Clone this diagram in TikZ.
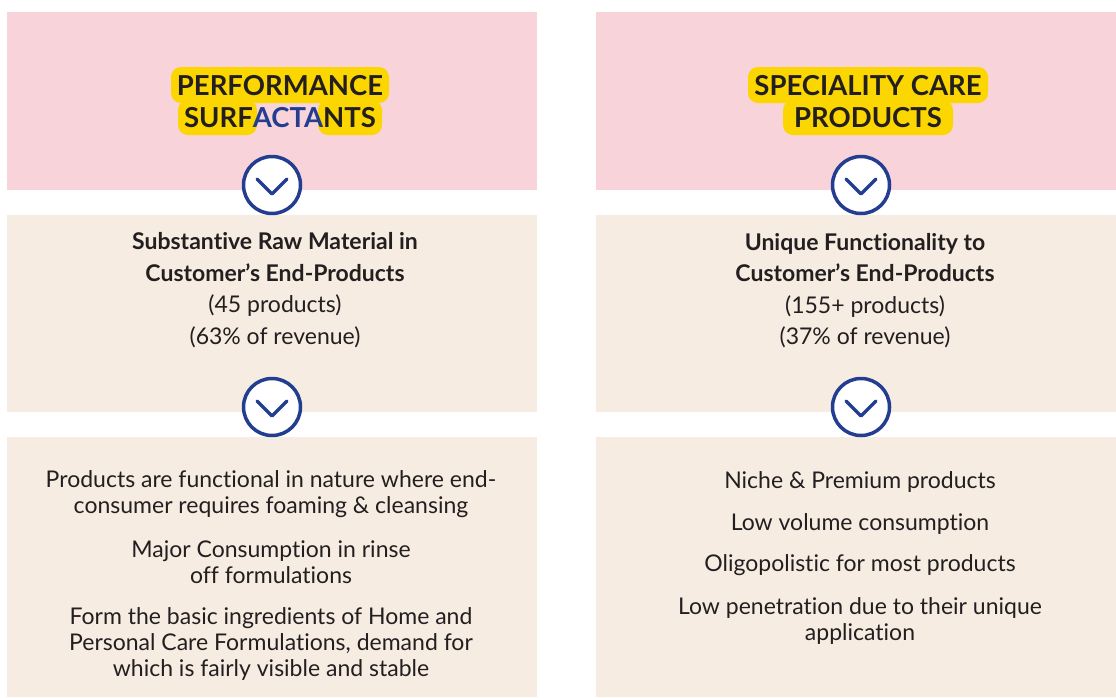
\documentclass[tikz,border=0pt]{standalone}
\usepackage{fontspec}
\setmainfont{Lato}[Ligatures=NoCommon]
\usepackage{xcolor}
\usetikzlibrary{positioning}

\definecolor{panelpink}{HTML}{F8D3DA}
\definecolor{panelbeige}{HTML}{F7ECE2}
\definecolor{hlyellow}{HTML}{FCD600}
\definecolor{navy}{HTML}{233E91}
\definecolor{ink}{HTML}{231F20}

\tikzset{
    panel/.style={inner sep=0pt, outer sep=0pt},
    title/.style={font=\fontsize{27.5}{32}\selectfont\bfseries, text=ink, inner sep=0pt, anchor=base},
    hilite/.style={fill=hlyellow, rounded corners=10pt},
    info/.style={font=\fontsize{23}{31.5}\selectfont, text=ink, align=center, inner sep=0pt},
    point/.style={font=\fontsize{23}{26}\selectfont, text=ink, align=center, inner sep=0pt},
    knob/.style={circle, draw=navy, line width=3.5pt, fill=white, minimum size=57pt, inner sep=0pt},
    chev/.style={draw=navy, line width=3.5pt, line cap=round, line join=round}
}

\begin{document}
\begin{tikzpicture}[x=1pt, y=-1pt]
    \useasboundingbox (0,0) rectangle (1116,697);

    % Panels
    \node[panel, fill=panelpink, minimum width=530, minimum height=178] (ltop) at (272,101) {};
    \node[panel, fill=panelpink, minimum width=520, minimum height=178] (rtop) at (856,101) {};
    \node[panel, fill=panelbeige, minimum width=530, minimum height=197] (lmid) at (272,313.5) {};
    \node[panel, fill=panelbeige, minimum width=520, minimum height=197] (rmid) at (856,313.5) {};
    \node[panel, fill=panelbeige, minimum width=530, minimum height=260] (lbot) at (272,567) {};
    \node[panel, fill=panelbeige, minimum width=520, minimum height=260] (rbot) at (856,567) {};

    % Highlights behind the titles
    \fill[hilite] (171,67) rectangle (389,103);
    \fill[hilite] (178,100) rectangle (257,135);
    \fill[hilite] (318,100) rectangle (382,135);
    \fill[hilite] (748,67) rectangle (988,103);
    \fill[hilite] (783,100) rectangle (953,135);

    % Titles
    \node[title] (ltitle1) at (280,95) {PERFORMANCE};
    \node[title] (ltitle2) at (280,127) {SURF\textcolor{navy}{ACTA}NTS};
    \node[title] (rtitle1) at (868,95) {SPECIALITY CARE};
    \node[title] (rtitle2) at (868,127) {PRODUCTS};

    % Share of business
    \node[info] (lshare) at (275,290) {\textbf{Substantive Raw Material in}\\\textbf{Customer’s End-Products}\\(45 products)\\(63\% of revenue)};
    \node[info] (rshare) at (865,290.5) {\textbf{Unique Functionality to}\\\textbf{Customer’s End-Products}\\(155+ products)\\(37\% of revenue)};

    % Features
    \node[point] (lpt1) at (271,494.5) {Products are functional in nature where end-\\consumer requires foaming \& cleansing};
    \node[point] (lpt2) at (271,562.5) {Major Consumption in rinse\\off formulations};
    \node[point] (lpt3) at (271,643.5) {Form the basic ingredients of Home and\\Personal Care Formulations, demand for\\which is fairly visible and stable};
    \node[point] (rpt1) at (860,481.5) {Niche \& Premium products};
    \node[point] (rpt2) at (860,523.5) {Low volume consumption};
    \node[point] (rpt3) at (860,565.5) {Oligopolistic for most products};
    \node[point] (rpt4) at (860,620.5) {Low penetration due to their unique\\application};

    % Arrow knobs
    \foreach \name/\x/\y in {lknob1/272/185, lknob2/272/407, rknob1/861/185, rknob2/861/407} {
        \node[knob] (\name) at (\x,\y) {};
        \draw[chev] ([shift={(-15,-6)}]\name.center) -- ([shift={(0,9)}]\name.center) -- ([shift={(15,-6)}]\name.center);
    }
\end{tikzpicture}
\end{document}
